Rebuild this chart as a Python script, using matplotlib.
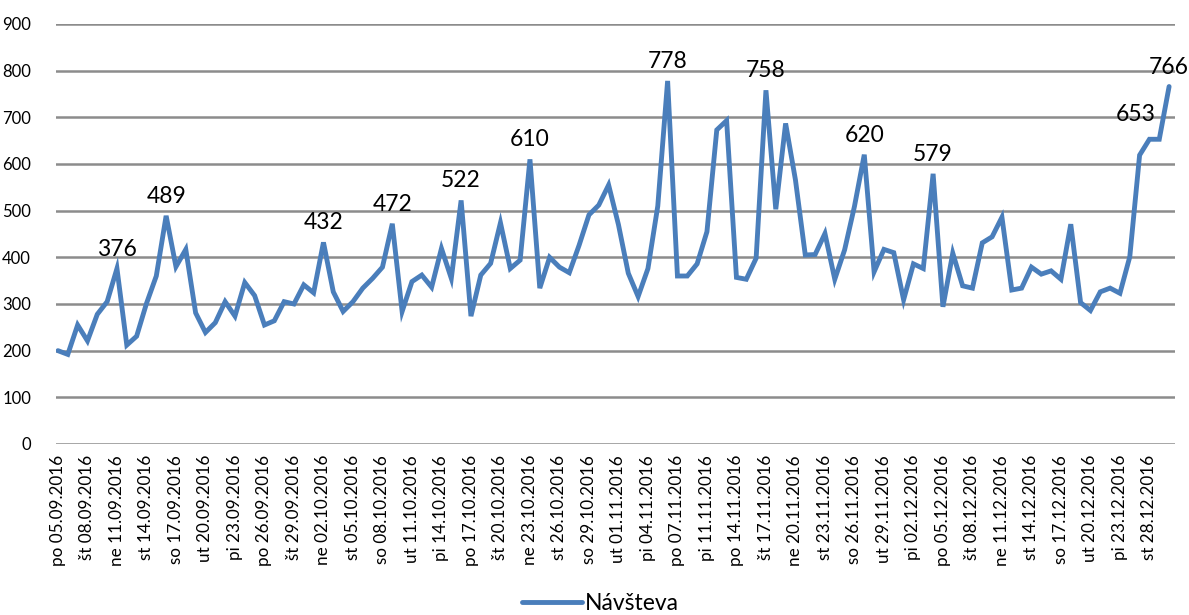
import matplotlib
matplotlib.use("Agg")
import matplotlib.pyplot as plt

plt.rcParams['font.family'] = ['Lato', 'DejaVu Sans']

# ---- data ----
visits = [200, 192, 255, 221, 278, 305, 376, 212, 231, 301,
          360, 489, 380, 417, 281, 239, 260, 305, 274, 346,
          318, 255, 264, 305, 300, 341, 324, 432, 326, 284,
          305, 334, 355, 379, 472, 284, 348, 362, 336, 419,
          355, 522, 274, 362, 387, 474, 376, 394, 610, 334,
          400, 379, 367, 426, 491, 512, 555, 470, 366, 316,
          376, 510, 778, 360, 360, 386, 455, 673, 693, 357,
          353, 398, 758, 503, 687, 566, 405, 406, 451, 353,
          416, 509, 620, 369, 417, 410, 309, 386, 376, 579,
          294, 409, 339, 334, 431, 444, 486, 330, 334, 379,
          364, 371, 353, 471, 303, 286, 326, 334, 323, 401,
          619, 653, 653, 766]

tick_labels = ["po 05.09.2016", "št 08.09.2016", "ne 11.09.2016", "st 14.09.2016",
               "so 17.09.2016", "ut 20.09.2016", "pi 23.09.2016", "po 26.09.2016",
               "št 29.09.2016", "ne 02.10.2016", "st 05.10.2016", "so 08.10.2016",
               "ut 11.10.2016", "pi 14.10.2016", "po 17.10.2016", "št 20.10.2016",
               "ne 23.10.2016", "st 26.10.2016", "so 29.10.2016", "ut 01.11.2016",
               "pi 04.11.2016", "po 07.11.2016", "pi 11.11.2016", "po 14.11.2016",
               "št 17.11.2016", "ne 20.11.2016", "st 23.11.2016", "so 26.11.2016",
               "ut 29.11.2016", "pi 02.12.2016", "po 05.12.2016", "št 08.12.2016",
               "ne 11.12.2016", "st 14.12.2016", "so 17.12.2016", "ut 20.12.2016",
               "pi 23.12.2016", "st 28.12.2016"]

labeled_idx = [6, 11, 27, 34, 41, 48, 62, 72, 82, 89, 111, 113]
series_name = "Návšteva"

# ---- figure ----
fig = plt.figure(figsize=(11.89, 6.15), dpi=100)
ax = fig.add_axes([56/1189, 1-444/615, (1175-56)/1189, 420/615])

x = list(range(len(visits)))
line_color = "#4a7ebb"
ax.plot(x, visits, color=line_color, lw=3.5, solid_joinstyle='miter',
        solid_capstyle='round', label=series_name, zorder=3)

ax.set_ylim(0, 900)
ax.set_yticks(range(0, 901, 100))
ax.set_xlim(-0.2, len(visits) - 0.4)
ax.set_xticks(list(range(0, len(visits), 3))[:len(tick_labels)])
ax.set_xticklabels(tick_labels, rotation=90, fontsize=12.3, va='top', ha='center')
ax.tick_params(axis='both', length=0)
ax.tick_params(axis='y', labelsize=12, pad=18)
ax.tick_params(axis='x', pad=8)

ax.grid(axis='y', color='#8c8c8c', lw=1.8, zorder=0)
for s in ax.spines.values():
    s.set_visible(False)

for i in labeled_idx:
    dx, dy = 0, 14
    if i == 111:
        dx, dy = -10, 18
    ax.annotate(str(visits[i]), (x[i], visits[i]), xytext=(dx, dy),
                textcoords='offset points', ha='center', va='center',
                fontsize=16.5, color='black', zorder=4)

fig.legend(loc='center', bbox_to_anchor=(0.505, 0.018), frameon=False,
           fontsize=16.5, handlelength=2.6, handletextpad=0.15,
           borderaxespad=0)

fig.savefig("out.png", dpi=100)
